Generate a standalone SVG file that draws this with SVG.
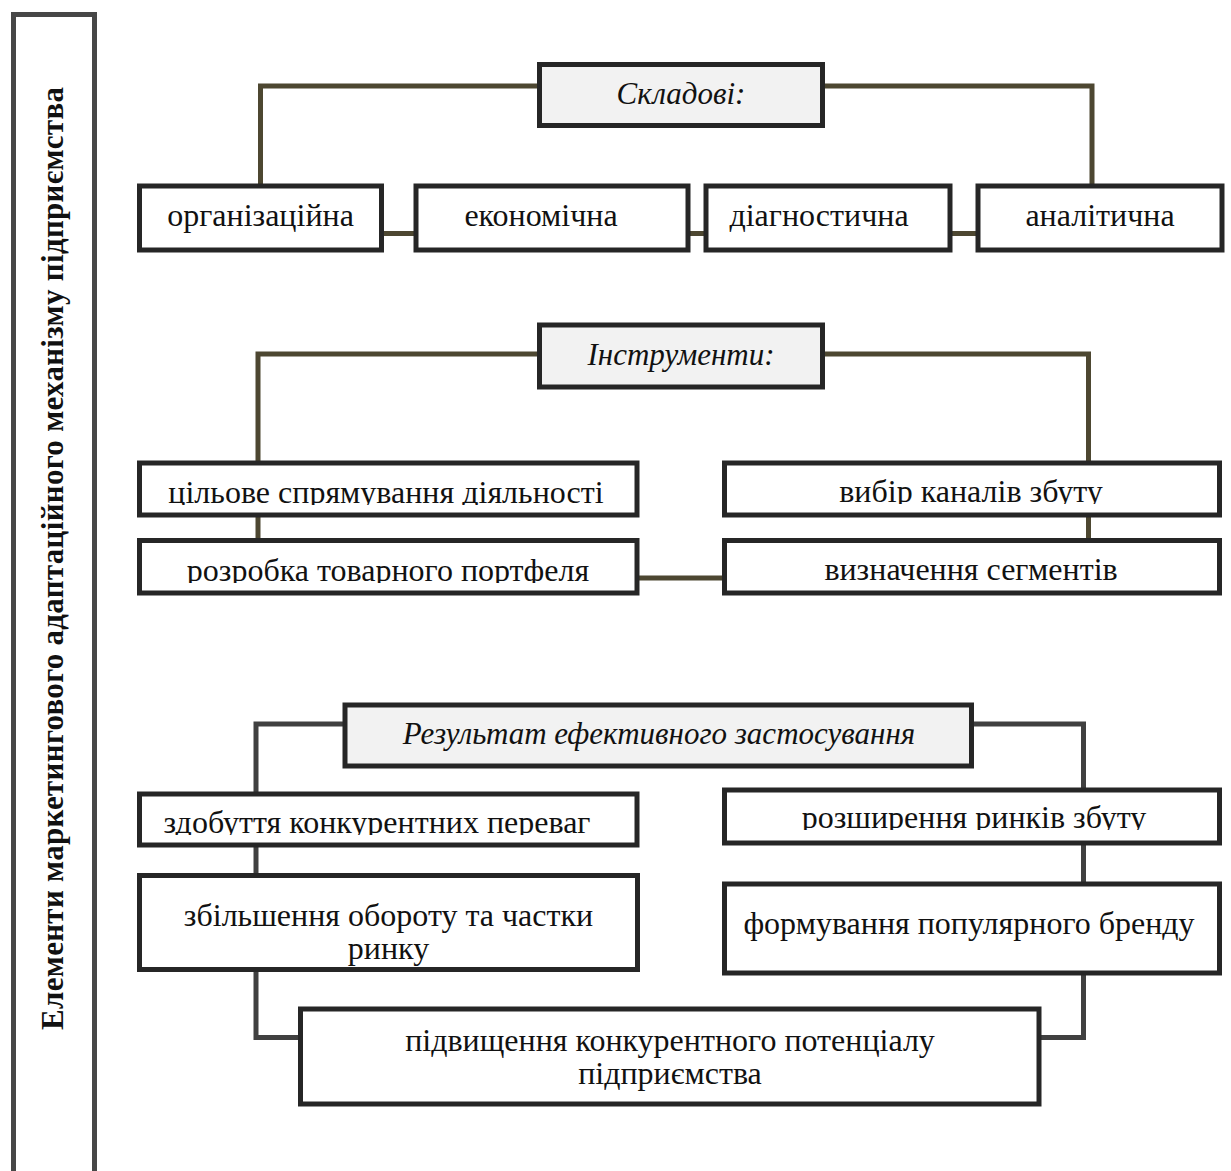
<svg xmlns="http://www.w3.org/2000/svg" width="1231" height="1171" viewBox="0 0 1231 1171">
<style>
.box{fill:#ffffff;stroke:#262626;stroke-width:5}
.hdr{fill:#f2f2f2;stroke:#262626;stroke-width:5}
.t{font-family:"Liberation Serif","Times New Roman",serif;font-size:32px;fill:#111;text-anchor:middle}
.it{font-style:italic;font-size:31px}
.olive{fill:none;stroke:#4d4731;stroke-width:5}
.gray{fill:none;stroke:#404040;stroke-width:5}
.side{fill:none;stroke:#474747;stroke-width:5}
.vt{font-family:"Liberation Serif","Times New Roman",serif;font-size:31px;font-weight:bold;fill:#111;text-anchor:middle}
</style>
<defs>
<clipPath id="c1"><rect x="142" y="466" width="493" height="39"/></clipPath>
<clipPath id="c2"><rect x="727" y="466" width="490" height="38"/></clipPath>
<clipPath id="c3"><rect x="142" y="543" width="493" height="40"/></clipPath>
<clipPath id="c4"><rect x="142" y="797" width="493" height="38"/></clipPath>
<clipPath id="c5"><rect x="727" y="793" width="490" height="37"/></clipPath>
</defs>
<rect width="1231" height="1171" fill="#ffffff"/>

<g id="side">
<path class="side" d="M13.5,1180 V14.5 H94.5 V1180"/>
<text class="vt" transform="translate(63,558.5) rotate(-90)" textLength="943" lengthAdjust="spacing">Елементи маркетингового адаптаційного механізму підприємства</text>
</g>

<g id="connectors">
<path class="olive" d="M540,86 H260.5 V186"/>
<path class="olive" d="M822,86 H1092 V186"/>
<path class="olive" d="M381.5,233.5 H416"/>
<path class="olive" d="M688,233.5 H706"/>
<path class="olive" d="M950,233.5 H978"/>
<path class="olive" d="M540,354 H258 V463"/>
<path class="olive" d="M822,354 H1088.5 V463"/>
<path class="olive" d="M258,515 V540.5"/>
<path class="olive" d="M1088.5,515 V540.5"/>
<path class="olive" d="M637,578 H724.5"/>
<path class="gray" d="M345,724 H256 V794"/>
<path class="gray" d="M971.5,724 H1083.5 V790"/>
<path class="gray" d="M256,845 V875.5"/>
<path class="gray" d="M1083.5,843 V884"/>
<path class="gray" d="M256,969.5 V1037.5 H300.5"/>
<path class="gray" d="M1083.5,973 V1037.5 H1039"/>
</g>

<g id="skladovi">
<rect class="hdr" x="539.5" y="64.5" width="283" height="61"/>
<text class="t it" x="681" y="104">Складові:</text>
</g>
<g id="organizatsiina">
<rect class="box" x="139.5" y="186" width="242" height="64"/>
<text class="t" x="260.5" y="226">організаційна</text>
</g>
<g id="ekonomichna">
<rect class="box" x="416" y="186" width="272" height="64"/>
<text class="t" x="541" y="226">економічна</text>
</g>
<g id="diahnostychna">
<rect class="box" x="706" y="186" width="244" height="64"/>
<text class="t" x="819" y="226">діагностична</text>
</g>
<g id="analitychna">
<rect class="box" x="978" y="186" width="244" height="64"/>
<text class="t" x="1100" y="226">аналітична</text>
</g>

<g id="instrumenty">
<rect class="hdr" x="539.5" y="325" width="283" height="62"/>
<text class="t it" x="681" y="365">Інструменти:</text>
</g>
<g id="tsilove">
<rect class="box" x="139.5" y="463" width="497.5" height="52"/>
<text class="t" x="386" y="503" clip-path="url(#c1)">цільове спрямування діяльності</text>
</g>
<g id="vybir">
<rect class="box" x="724.5" y="463" width="495" height="52"/>
<text class="t" x="971" y="502" clip-path="url(#c2)">вибір каналів збуту</text>
</g>
<g id="rozrobka">
<rect class="box" x="139.5" y="540.5" width="497.5" height="52.5"/>
<text class="t" x="388" y="581" clip-path="url(#c3)">розробка товарного портфеля</text>
</g>
<g id="vyznachennia">
<rect class="box" x="724.5" y="540.5" width="495" height="52.5"/>
<text class="t" x="971" y="580">визначення сегментів</text>
</g>

<g id="rezultat">
<rect class="hdr" x="345" y="705" width="626.5" height="61"/>
<text class="t it" x="659" y="744">Результат ефективного застосування</text>
</g>
<g id="zdobuttia">
<rect class="box" x="139.5" y="794" width="497.5" height="51"/>
<text class="t" x="377" y="833" clip-path="url(#c4)">здобуття конкурентних переваг</text>
</g>
<g id="rozshyrennia">
<rect class="box" x="724.5" y="790" width="495" height="53"/>
<text class="t" x="974" y="828" clip-path="url(#c5)">розширення ринків збуту</text>
</g>
<g id="zbilshennia">
<rect class="box" x="139.5" y="875.5" width="498" height="94"/>
<text class="t" x="388.5" y="926">збільшення обороту та частки</text>
<text class="t" x="388.5" y="959">ринку</text>
</g>
<g id="formuvannia">
<rect class="box" x="724.5" y="884" width="495" height="89"/>
<text class="t" x="969" y="934">формування популярного бренду</text>
</g>
<g id="pidvyshchennia">
<rect class="box" x="300.5" y="1009" width="738.5" height="95"/>
<text class="t" x="670" y="1051">підвищення конкурентного потенціалу</text>
<text class="t" x="670" y="1084">підприємства</text>
</g>
</svg>
